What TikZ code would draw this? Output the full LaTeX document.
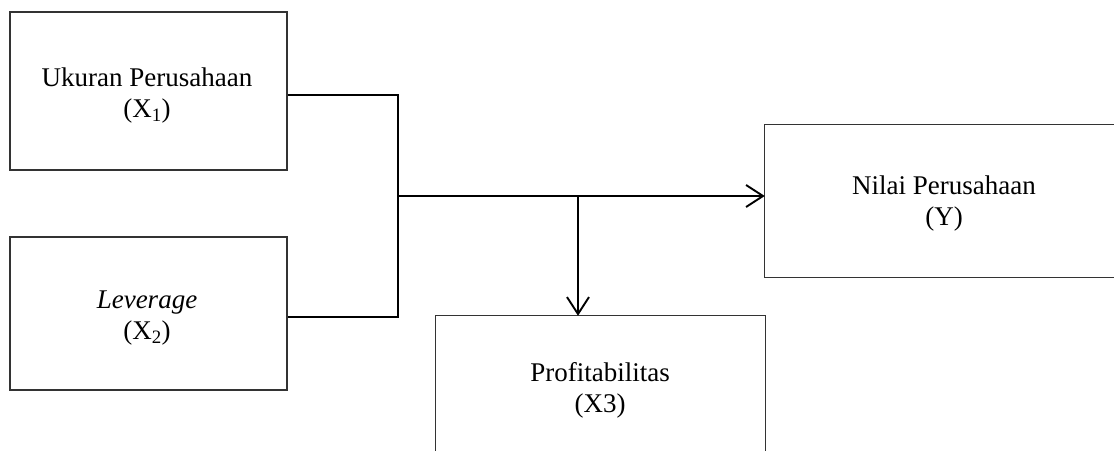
\documentclass[tikz,border=0pt]{standalone}
\usepackage{fontspec}
\setmainfont{Liberation Serif}
\usetikzlibrary{arrows.meta}
\begin{document}
\begin{tikzpicture}[x=1pt,y=-1pt,
  box/.style={draw=black!80,line width=1.1pt,rectangle,inner sep=0pt},
  openbox/.style={rectangle,inner sep=0pt},
  edge/.style={draw=black!80,line width=1.1pt},
  lbl/.style={inner sep=0pt,align=center,font=\fontsize{27}{31}\selectfont},
  conn/.style={draw=black,line width=1.9pt},
  arr/.style={conn,-{Straight Barb[length=17pt,width=22pt,line width=1.9pt]}}]
\useasboundingbox (0,0) rectangle (1114,450);
\node[box,minimum width=277pt,minimum height=158pt] (b1) at (148.5,91) {};
\node[box,minimum width=277pt,minimum height=153pt] (b2) at (148.5,313.5) {};
\node[openbox,minimum width=380pt,minimum height=152pt] (y) at (955,201) {};
\node[openbox,minimum width=329pt,minimum height=160pt] (x3) at (600.5,396) {};
\draw[edge] (y.north east) -- (y.north west) -- (y.south west) -- (y.south east);
\draw[edge] (x3.south west) -- (x3.north west) -- (x3.north east) -- (x3.south east);
\node[lbl] (t1) at (147,96) {Ukuran Perusahaan\\(X\textsubscript{1})};
\node[lbl] (t2) at (147,318.5) {\textit{Leverage}\\(X\textsubscript{2})};
\node[lbl] (ty) at (944,204) {Nilai Perusahaan\\(Y)};
\node[lbl] (tx3) at (600,390) {Profitabilitas\\(X3)};
\coordinate (j1) at (398,95);
\coordinate (j2) at (398,317);
\coordinate (m) at (398,196);
\coordinate (d) at (578,196);
\draw[conn] (b1.east |- j1) -- (j1) -- (j2) -- (b2.east |- j2);
\draw[arr] (m) -- (y.west |- m);
\draw[arr] (d) -- (x3.north -| d);
\end{tikzpicture}
\end{document}
